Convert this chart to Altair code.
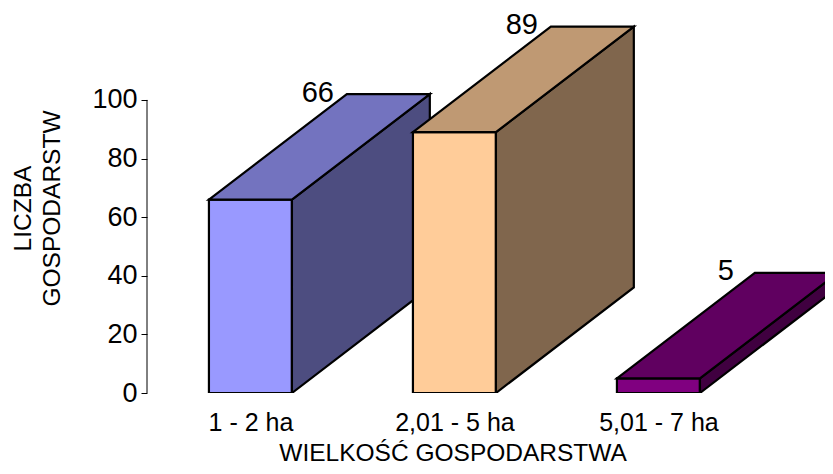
import json
import altair as alt
import pandas as pd

# ---- data ----
names = ["1 - 2 ha", "2,01 - 5 ha", "5,01 - 7 ha"]
values = [66, 89, 5]
front_colors = ["#9999FF", "#FFCC99", "#800080"]
top_colors = ["#7373BF", "#BF9973", "#600060"]
side_colors = ["#4D4D80", "#80664D", "#400040"]
y_ticks = [0, 20, 40, 60, 80, 100]

# ---- 3-D geometry constants (in data units) ----
HW = 0.2034      # half width of front face (category units)
DX = 0.676       # depth offset along x (category units)
DY = 36.0        # depth offset along y (value units)
PX_PER_CAT = 204.0
PLOT_W, PLOT_H = 678, 381
XMIN = -0.507
XMAX = XMIN + PLOT_W / PX_PER_CAT
YMIN, YMAX = 0, 130
SW = 2.2

FONT = "Liberation Sans"

x_scale = alt.Scale(domain=[XMIN, XMAX], nice=False, zero=False)
y_scale = alt.Scale(domain=[YMIN, YMAX], nice=False, zero=False)

label_expr = json.dumps(names) + "[round(datum.value)]"

x_axis = alt.Axis(
    values=[0, 1, 2], labelExpr=label_expr, domain=False, ticks=False, grid=False,
    labelFontSize=25, labelFont=FONT, labelColor="black", labelPadding=17,
    title="WIELKOŚĆ GOSPODARSTWA", titleFont=FONT, titleFontSize=24.5,
    titleFontWeight="normal", titleColor="black", titleX=305.6, titleY=67,
    titleAlign="center", titleBaseline="alphabetic", titleAnchor="start",
)
y_axis = alt.Axis(
    values=y_ticks, domain=False, grid=False, tickSize=6, tickColor="black",
    tickWidth=1, labelFontSize=27, labelFont=FONT, labelColor="black",
    labelPadding=4,
    title=["LICZBA", "GOSPODARSTW"], titleFont=FONT, titleFontSize=24.5,
    titleFontWeight="normal", titleColor="black", titleAngle=270,
    titleX=-124, titleY=196, titleAlign="center", titleBaseline="middle",
    titleLineHeight=29, titleAnchor="start",
)


def X(field, **kw):
    return alt.X(field, scale=x_scale, axis=x_axis, **kw)


def Y(field, **kw):
    return alt.Y(field, scale=y_scale, axis=y_axis, **kw)


# axis line (0..100) drawn through the scales
axis_rule = alt.Chart(pd.DataFrame({"a": [0]})).mark_rule(
    color="black", strokeWidth=1
).transform_calculate(
    xa=str(XMIN), ya="0", yb=str(max(y_ticks))
).encode(
    x=X("xa:Q"), y=Y("ya:Q"), y2="yb:Q",
)

layers = [axis_rule]
for i, (n, v) in enumerate(zip(names, values)):
    front = pd.DataFrame({"x0": [i - HW], "x1": [i + HW], "y0": [0], "y1": [v]})
    side = pd.DataFrame({
        "x0": [i + HW, i + HW + DX],
        "y1": [v, v + DY],
        "y0": [0, DY],
    })
    top = pd.DataFrame({
        "y0": [v, v + DY],
        "x0": [i - HW, i - HW + DX],
        "x1": [i + HW, i + HW + DX],
    })
    layers.append(
        alt.Chart(front).mark_rect(
            fill=front_colors[i], stroke="black", strokeWidth=SW, clip=True
        ).encode(x=X("x0:Q"), x2="x1:Q", y=Y("y0:Q"), y2="y1:Q")
    )
    layers.append(
        alt.Chart(side).mark_area(
            fill=side_colors[i], stroke="black", strokeWidth=SW, clip=True,
            orient="vertical", opacity=1,
        ).encode(x=X("x0:Q"), y=Y("y1:Q", stack=None), y2="y0:Q")
    )
    layers.append(
        alt.Chart(top).mark_area(
            fill=top_colors[i], stroke="black", strokeWidth=SW, clip=True,
            orient="horizontal", opacity=1,
        ).encode(y=Y("y0:Q"), x=X("x0:Q", stack=None), x2="x1:Q")
    )

lab = pd.DataFrame({"pos": list(range(len(names))), "v": values})
labels = alt.Chart(lab).transform_calculate(
    x0=f"datum.pos - {HW} + {DX}", y0=f"datum.v + {DY}", txt="'' + datum.v"
).mark_text(
    font=FONT, fontSize=29, color="black", align="center", baseline="middle",
    dx=-29, dy=-1.5,
).encode(x=X("x0:Q"), y=Y("y0:Q"), text="txt:N")
layers.append(labels)

chart = alt.layer(*layers).properties(
    width=PLOT_W, height=PLOT_H,
    autosize=alt.AutoSizeParams(type="none"),
    padding={"left": 139, "top": 4, "right": 0, "bottom": 73},
    background="white",
).configure_view(stroke=None)

chart.save("out.html", embed_options={"renderer": "svg", "actions": False})
